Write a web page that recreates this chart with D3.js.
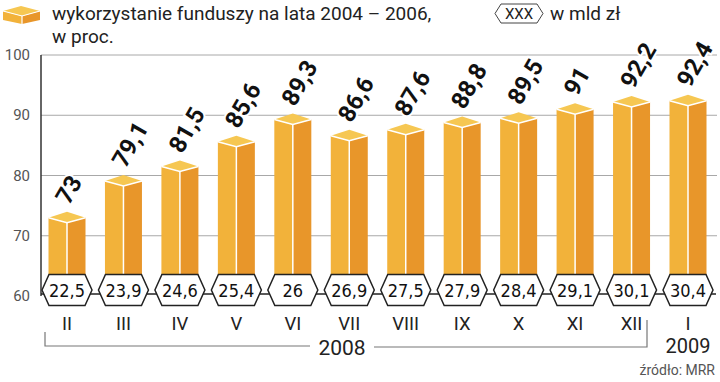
<!DOCTYPE html>
<html><head><meta charset="utf-8">
<script src="https://cdn.jsdelivr.net/npm/d3@7"></script>
<style>
html,body{margin:0;padding:0;background:#fff;}
svg{display:block;font-family:Roboto,"Open Sans",sans-serif;}
</style></head>
<body>
<svg id="c" width="720" height="382"></svg>
<script>
const months = ["II","III","IV","V","VI","VII","VIII","IX","X","XI","XII","I"];
const usage = [73, 79.1, 81.5, 85.6, 89.3, 86.6, 87.6, 88.8, 89.5, 91, 92.2, 92.4];
const amounts = [22.5, 23.9, 24.6, 25.4, 26, 26.9, 27.5, 27.9, 28.4, 29.1, 30.1, 30.4];
const yTicks = [60, 70, 80, 90, 100];
const years = ["2008", "2009"];
const legendText = ["wykorzystanie funduszy na lata 2004 – 2006,", "w proc."];
const legendHexText = "XXX";
const legendHexLabel = "w mld zł";
const sourceText = "źródło: MRR";

const fmt = v => String(v).replace(".", ",");
const svg = d3.select("#c");
const y = d3.scaleLinear().domain([60, 100]).range([296, 55]);
const x = d3.scalePoint().domain(months).range([67, 688]);
const hw = 18.5;
const C = {top:"#f6c752", left:"#f2b23a", right:"#e8962a"};

// gridlines
svg.append("g").selectAll("line").data(yTicks.filter(t => t > 60)).join("line")
  .attr("x1", 41).attr("x2", 717).attr("y1", d => y(d)).attr("y2", d => y(d))
  .attr("stroke", "#a8a8a8").attr("stroke-width", 1);

// y tick labels
svg.append("g").selectAll("text").data(yTicks).join("text")
  .attr("x", 30).attr("y", d => y(d) + 5).attr("text-anchor", "end")
  .attr("font-size", 15).attr("fill", "#555").text(d => d);

// axis vertical
svg.append("line").attr("x1", 41).attr("x2", 41).attr("y1", y(100)).attr("y2", y(60))
  .attr("stroke", "#333").attr("stroke-width", 1.5);

// bars
const base = y(60);
const bars = svg.append("g").selectAll("g").data(months).join("g");
bars.each(function(m, i) {
  const g = d3.select(this);
  const cx = x(m), yy = y(usage[i]);
  g.append("polygon").attr("points", [[cx-hw,yy],[cx,yy+5],[cx,base],[cx-hw,base]].join(" ")).attr("fill", C.left);
  g.append("polygon").attr("points", [[cx,yy+5],[cx+hw,yy],[cx+hw,base],[cx,base]].join(" ")).attr("fill", C.right);
  g.append("polygon").attr("points", [[cx-hw,yy],[cx,yy-6],[cx+hw,yy],[cx,yy+5]].join(" ")).attr("fill", C.top);
  g.append("polyline").attr("points", [[cx-hw,yy],[cx,yy+5],[cx+hw,yy]].join(" "))
    .attr("fill", "none").attr("stroke", "#fff").attr("stroke-width", 1.5);
  g.append("line").attr("x1", cx).attr("x2", cx).attr("y1", yy+5).attr("y2", base)
    .attr("stroke", "#fff").attr("stroke-width", 1.5);
});

// value labels
svg.append("g").selectAll("text").data(months).join("text")
  .attr("transform", (m, i) => `translate(${x(m)+2},${y(usage[i])-12}) rotate(-60)`)
  .attr("font-size", 24).attr("font-weight", "bold").attr("fill", "#111")
  .attr("stroke", "#fff").attr("stroke-width", 4).attr("paint-order", "stroke")
  .text((m, i) => fmt(usage[i]));

// x axis line
svg.append("line").attr("x1", 41).attr("x2", 716).attr("y1", 294).attr("y2", 294)
  .attr("stroke", "#222").attr("stroke-width", 1.5);

// hexagons
function hexPts(cx, cy, w, h, inset) {
  return [[cx-w/2,cy],[cx-w/2+inset,cy-h/2],[cx+w/2-inset,cy-h/2],[cx+w/2,cy],[cx+w/2-inset,cy+h/2],[cx-w/2+inset,cy+h/2]].join(" ");
}
const hex = svg.append("g").selectAll("g").data(months).join("g");
hex.append("polygon").attr("points", m => hexPts(x(m), 290, 50, 31, 7))
  .attr("fill", "#fff").attr("stroke", "#222").attr("stroke-width", 1.5);
hex.append("text").attr("x", m => x(m)).attr("y", 296.5).attr("text-anchor", "middle")
  .attr("font-size", 18).attr("fill", "#111")
  .attr("font-family", "'Liberation Sans Narrow','DejaVu Sans Condensed',Roboto,sans-serif")
  .text((m, i) => fmt(amounts[i]));

// month labels
svg.append("g").selectAll("text").data(months).join("text")
  .attr("x", m => x(m)).attr("y", 330).attr("text-anchor", "middle")
  .attr("font-size", 18.5).attr("fill", "#222").text(m => m);

// year bracket
svg.append("polyline").attr("points", [[45,332],[45,346],[310,346]].join(" "))
  .attr("fill", "none").attr("stroke", "#777").attr("stroke-width", 1.2);
svg.append("polyline").attr("points", [[374,347],[647,347],[647,320]].join(" "))
  .attr("fill", "none").attr("stroke", "#777").attr("stroke-width", 1.2);
svg.append("text").attr("x", 342).attr("y", 355).attr("text-anchor", "middle")
  .attr("font-size", 21).attr("fill", "#222").text(years[0]);
svg.append("text").attr("x", x("I")).attr("y", 353).attr("text-anchor", "middle")
  .attr("font-size", 20).attr("fill", "#222").text(years[1]);

// source
svg.append("text").attr("x", 715).attr("y", 375).attr("text-anchor", "end")
  .attr("font-size", 14).attr("fill", "#555").text(sourceText);

// legend
const lg = svg.append("g");
lg.append("polygon").attr("points", [[3,11],[22,16],[22,24],[3,20]].join(" ")).attr("fill", C.left);
lg.append("polygon").attr("points", [[22,16],[40,11],[40,20],[22,24]].join(" ")).attr("fill", C.right);
lg.append("polygon").attr("points", [[3,11],[21,6],[40,11],[22,16]].join(" ")).attr("fill", C.top);
lg.append("polyline").attr("points", [[3,11],[22,16],[40,11]].join(" ")).attr("fill","none").attr("stroke","#fff").attr("stroke-width",1.2);
lg.append("line").attr("x1",22).attr("x2",22).attr("y1",16).attr("y2",24).attr("stroke","#fff").attr("stroke-width",1.2);
lg.selectAll("text.l").data(legendText).join("text").attr("class","l")
  .attr("x", 52).attr("y", (d, i) => 20 + i * 23).attr("font-size", 19).attr("fill", "#222").text(d => d);
lg.append("polygon").attr("points", hexPts(519, 13.5, 48, 19, 6))
  .attr("fill", "#fff").attr("stroke", "#444").attr("stroke-width", 1);
lg.append("text").attr("x", 519).attr("y", 19).attr("text-anchor", "middle")
  .attr("font-size", 15).attr("fill", "#222").text(legendHexText);
lg.append("text").attr("x", 550).attr("y", 20).attr("font-size", 19).attr("fill", "#222").text(legendHexLabel);
</script>
</body></html>
